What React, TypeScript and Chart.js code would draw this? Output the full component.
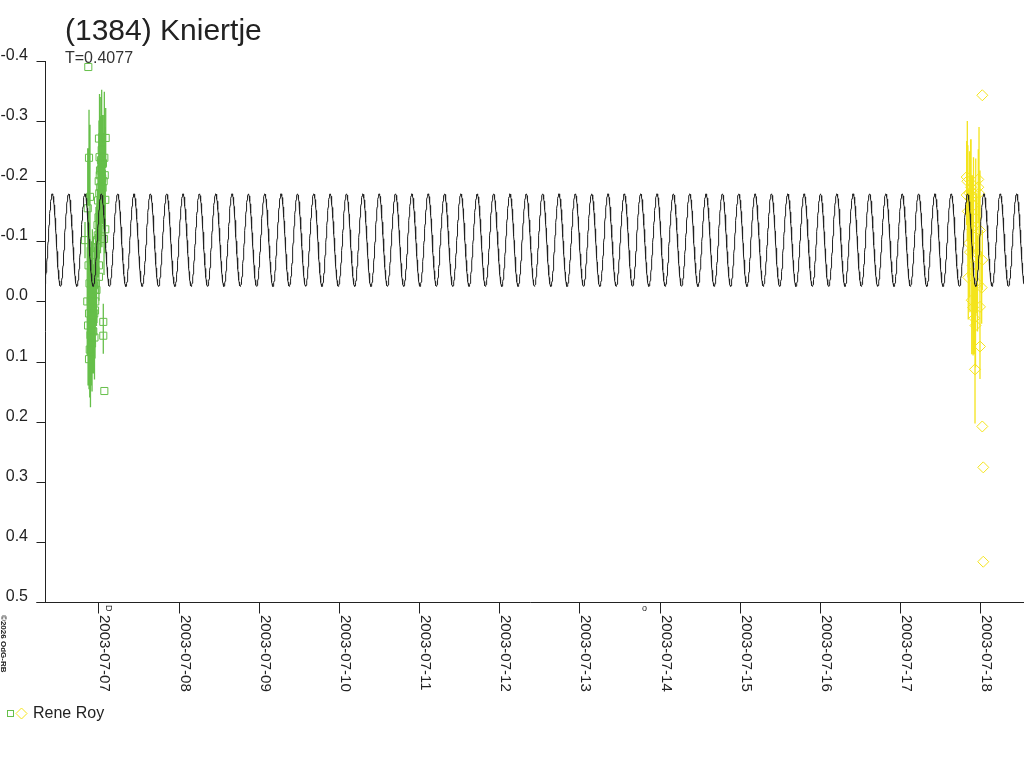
import React, { useEffect, useRef } from "react";
import { Chart, registerables } from "chart.js";

Chart.register(...registerables);

// ---- texts ----
const TITLE = "(1384) Kniertje";
const PERIOD_LABEL = "T=0.4077";
const OBSERVER = "Rene Roy";
const COPYRIGHT = "©2026 OdG-RB";

// ---- axes (x = day of July 2003, UT) ----
const X_MIN = 6.335;
const X_MAX = 18.545;
const Y_MIN = -0.4;
const Y_MAX = 0.5;
const X_TICK_DAYS = [7, 8, 9, 10, 11, 12, 13, 14, 15, 16, 17, 18];
const X_TICK_LABELS = [
  "2003-07-07", "2003-07-08", "2003-07-09", "2003-07-10", "2003-07-11", "2003-07-12",
  "2003-07-13", "2003-07-14", "2003-07-15", "2003-07-16", "2003-07-17", "2003-07-18",
];
const Y_TICKS = [-0.4, -0.3, -0.2, -0.1, 0.0, 0.1, 0.2, 0.3, 0.4, 0.5];
const Y_TICK_LABELS = ["-0.4", "-0.3", "-0.2", "-0.1", "0.0", "0.1", "0.2", "0.3", "0.4", "0.5"];

// ---- fitted model (double-wave lightcurve, period T) ----
const PERIOD = 0.4077;
const MODEL_MEAN = -0.102;
const MODEL_AMP = 0.077;
const MODEL_EPOCH = 6.426;
const MODEL_STEP = 0.003;

// ---- Rene Roy, session 1 (green squares) ----
const GREEN_T = [
  6.834, 6.862, 6.868, 6.872, 6.875, 6.878, 6.884, 6.884, 6.884, 6.89, 6.893, 6.896, 6.902,
  6.905, 6.909, 6.912, 6.915, 6.918, 6.922, 6.926, 6.93, 6.934, 6.937, 6.94, 6.946, 6.949,
  6.952, 6.955, 6.959, 6.962, 6.965, 6.968, 6.971, 6.977, 6.98, 6.984, 6.99, 6.993, 6.996,
  7.002, 7.005, 7.008, 7.008, 7.008, 7.012, 7.015, 7.018, 7.021, 7.024, 7.027, 7.033, 7.037,
  7.042, 7.045, 7.048, 7.054, 7.058, 7.062, 7.062, 7.066, 7.071, 7.075, 7.075, 7.08, 7.087,
  7.087, 7.092,
];
const GREEN_MAG = [
  -0.102, 0.0, -0.155, 0.04, -0.39, -0.06, -0.239, 0.02, 0.096, -0.03, 0.08, -0.174, 0.056,
  0.0, 0.024, 0.06, -0.01, 0.03, 0.07, -0.04, 0.049, -0.002, 0.05, 0.03, -0.027, 0.02, 0.06,
  -0.02, 0.015, 0.0, -0.052, -0.03, -0.077, -0.019, -0.09, -0.102, -0.127, -0.11, -0.168,
  -0.14, -0.2, -0.271, -0.06, -0.041, -0.18, -0.24, -0.21, -0.218, -0.19, -0.15, -0.235,
  -0.22, -0.252, -0.17, -0.205, -0.189, -0.23, 0.034, 0.057, -0.2, -0.104, -0.239, 0.149,
  -0.21, -0.169, -0.12, -0.272,
];
const GREEN_ERR = [
  0.03, 0.09, 0.1, 0.1, 0.0, 0.09, 0.08, 0.08, 0.05, 0.1, 0.08, 0.12, 0.12, 0.09, 0.09, 0.08,
  0.09, 0.09, 0.08, 0.08, 0.07, 0.06, 0.07, 0.08, 0.07, 0.08, 0.07, 0.07, 0.08, 0.07, 0.06,
  0.07, 0.08, 0.06, 0.07, 0.07, 0.06, 0.07, 0.07, 0.08, 0.08, 0.03, 0.04, 0.04, 0.08, 0.105,
  0.09, 0.09, 0.08, 0.07, 0.105, 0.08, 0.1, 0.08, 0.07, 0.06, 0.08, 0.03, 0.03, 0.08, 0.06,
  0.11, 0.0, 0.08, 0.05, 0.04, 0.05,
];

// ---- Rene Roy, session 2 (yellow diamonds) ----
const YELLOW_T = [
  17.83, 17.838, 17.83, 17.845, 17.85, 17.859, 17.866, 17.871, 17.88, 17.885, 17.893, 17.9,
  17.905, 17.91, 17.915, 17.925, 17.934, 17.94, 17.943, 17.955, 17.965, 17.975, 17.975, 17.984,
  17.996, 17.996, 17.996, 18.017, 18.025, 18.025, 18.025, 18.037, 18.037,
];
const YELLOW_MAG = [
  -0.207, -0.2, -0.177, -0.15, -0.04, -0.097, -0.18, -0.082, -0.17, -0.19, -0.002, -0.12, -0.06,
  0.01, -0.16, 0.028, 0.113, 0.04, -0.138, -0.08, -0.03, -0.203, -0.19, -0.18, -0.118, 0.009,
  0.075, -0.023, -0.069, -0.343, 0.208, 0.276, 0.433,
];
const YELLOW_ERR = [
  0.06, 0.1, 0.05, 0.11, 0.07, 0.09, 0.07, 0.1, 0.1, 0.08, 0.09, 0.09, 0.1, 0.08, 0.08, 0.06,
  0.09, 0.07, 0.1, 0.1, 0.08, 0.05, 0.06, 0.11, 0.1, 0.12, 0.04, 0.06, 0.05, 0.0, 0.0, 0.0, 0.0,
];

// ---- small markers under the time axis ----
const MARK_T = [7.121, 13.806];
const MARK_TEXT = ["D", "o"];

const GREEN = "#66bf4a";
const YELLOW = "#f4e41c";
const INK = "#222222";
const FONT = "'Liberation Sans', Arial, sans-serif";

function buildModel() {
  const pts: { x: number; y: number }[] = [];
  for (let t = X_MIN; t <= X_MAX + 1e-9; t += MODEL_STEP) {
    pts.push({
      x: t,
      y: MODEL_MEAN - MODEL_AMP * Math.cos((4 * Math.PI * (t - MODEL_EPOCH)) / PERIOD),
    });
  }
  return pts;
}

function buildErrorBars(ts: number[], mags: number[], errs: number[]) {
  const pts: { x: number; y: number | null }[] = [];
  ts.forEach((t, i) => {
    if (errs[i] <= 0) return;
    pts.push({ x: t, y: mags[i] - errs[i] });
    pts.push({ x: t, y: mags[i] + errs[i] });
    pts.push({ x: t, y: null });
  });
  return pts;
}

function buildPoints(ts: number[], mags: number[]) {
  return ts.map((t, i) => ({ x: t, y: mags[i] }));
}

const overlayPlugin = {
  id: "overlay",
  afterDraw(chart: any) {
    const ctx: CanvasRenderingContext2D = chart.ctx;
    const xs = chart.scales.x;
    const ys = chart.scales.y;
    const area = chart.chartArea;
    const ax = Math.round(area.left) + 0.5;
    const ay = Math.round(area.bottom) + 0.5;
    ctx.save();
    ctx.strokeStyle = INK;
    ctx.fillStyle = INK;
    ctx.lineWidth = 1;

    // axis lines
    ctx.beginPath();
    ctx.moveTo(ax, Math.round(area.top));
    ctx.lineTo(ax, ay);
    ctx.moveTo(ax - 9, ay);
    ctx.lineTo(chart.width, ay);
    ctx.stroke();

    // y ticks + labels
    ctx.font = `16px ${FONT}`;
    ctx.textAlign = "right";
    ctx.textBaseline = "alphabetic";
    Y_TICKS.forEach((v, i) => {
      const py = Math.round(ys.getPixelForValue(v)) + 0.5;
      ctx.beginPath();
      ctx.moveTo(ax - 9, py);
      ctx.lineTo(ax, py);
      ctx.stroke();
      ctx.fillText(Y_TICK_LABELS[i], 28, py - 1.5);
    });

    // x ticks + rotated labels
    ctx.font = `15px ${FONT}`;
    ctx.textAlign = "left";
    X_TICK_DAYS.forEach((d, i) => {
      const px = Math.round(xs.getPixelForValue(d)) + 0.5;
      ctx.beginPath();
      ctx.moveTo(px, ay);
      ctx.lineTo(px, ay + 11);
      ctx.stroke();
      ctx.save();
      ctx.translate(px + 1, 615);
      ctx.rotate(Math.PI / 2);
      ctx.fillText(X_TICK_LABELS[i], 0, 0);
      ctx.restore();
    });

    // small markers
    ctx.font = `9px ${FONT}`;
    MARK_T.forEach((t, i) => {
      const px = xs.getPixelForValue(t);
      ctx.save();
      if (MARK_TEXT[i] === "D") {
        ctx.translate(px - 2, 605);
        ctx.rotate(Math.PI / 2);
        ctx.textBaseline = "alphabetic";
      } else {
        ctx.translate(px - 2, 604);
        ctx.textBaseline = "top";
      }
      ctx.fillText(MARK_TEXT[i], 0, 0);
      ctx.restore();
    });

    // title + period
    ctx.textAlign = "left";
    ctx.textBaseline = "alphabetic";
    ctx.font = `30px ${FONT}`;
    ctx.fillText(TITLE, 65, 40);
    ctx.font = `16px ${FONT}`;
    ctx.fillStyle = "#333";
    ctx.fillText(PERIOD_LABEL, 65, 63);

    // copyright, rotated
    ctx.save();
    ctx.fillStyle = INK;
    ctx.font = `bold 8px ${FONT}`;
    ctx.translate(1, 615);
    ctx.rotate(Math.PI / 2);
    ctx.fillText(COPYRIGHT, 0, 0);
    ctx.restore();

    // legend
    ctx.strokeStyle = GREEN;
    ctx.strokeRect(7.5, 710.5, 6, 6);
    ctx.strokeStyle = YELLOW;
    ctx.beginPath();
    ctx.moveTo(16, 713.5);
    ctx.lineTo(21.5, 708);
    ctx.lineTo(27, 713.5);
    ctx.lineTo(21.5, 719);
    ctx.closePath();
    ctx.stroke();
    ctx.fillStyle = INK;
    ctx.font = `16px ${FONT}`;
    ctx.fillText(OBSERVER, 33, 718);

    ctx.restore();
  },
};

export default function App() {
  const canvasRef = useRef<HTMLCanvasElement | null>(null);

  useEffect(() => {
    const canvas = canvasRef.current;
    if (!canvas) return;
    const chart = new Chart(canvas, {
      type: "scatter",
      data: {
        datasets: [
          {
            label: "model",
            data: buildModel(),
            showLine: true,
            borderColor: INK,
            borderWidth: 1,
            pointRadius: 0,
            tension: 0,
            order: 0,
          },
          {
            label: "green errors",
            data: buildErrorBars(GREEN_T, GREEN_MAG, GREEN_ERR),
            showLine: true,
            spanGaps: false,
            borderColor: GREEN,
            borderWidth: 1.3,
            pointRadius: 0,
            order: 3,
          },
          {
            label: "yellow errors",
            data: buildErrorBars(YELLOW_T, YELLOW_MAG, YELLOW_ERR),
            showLine: true,
            spanGaps: false,
            borderColor: YELLOW,
            borderWidth: 1.3,
            pointRadius: 0,
            order: 3,
          },
          {
            label: OBSERVER,
            data: buildPoints(GREEN_T, GREEN_MAG),
            showLine: false,
            pointStyle: "rect",
            pointRadius: 5,
            borderColor: GREEN,
            backgroundColor: "rgba(0,0,0,0)",
            borderWidth: 1,
            order: 2,
          },
          {
            label: OBSERVER + " 2",
            data: buildPoints(YELLOW_T, YELLOW_MAG),
            showLine: false,
            pointStyle: "rectRot",
            pointRadius: 5.5,
            borderColor: YELLOW,
            backgroundColor: "rgba(0,0,0,0)",
            borderWidth: 1,
            order: 2,
          },
        ],
      },
      options: {
        animation: false,
        responsive: false,
        devicePixelRatio: 1,
        events: [],
        layout: { autoPadding: false, padding: { left: 45, right: 0, top: 61, bottom: 166 } },
        plugins: { legend: { display: false }, tooltip: { enabled: false }, title: { display: false } },
        scales: {
          x: { type: "linear", min: X_MIN, max: X_MAX, display: false },
          y: { type: "linear", min: Y_MIN, max: Y_MAX, reverse: true, display: false },
        },
      },
      plugins: [overlayPlugin],
    });
    return () => chart.destroy();
  }, []);

  return (
    <div style={{ position: "fixed", left: 0, top: 0, width: 1024, height: 768, background: "#fff" }}>
      <canvas ref={canvasRef} width={1024} height={768} style={{ display: "block" }} />
    </div>
  );
}
